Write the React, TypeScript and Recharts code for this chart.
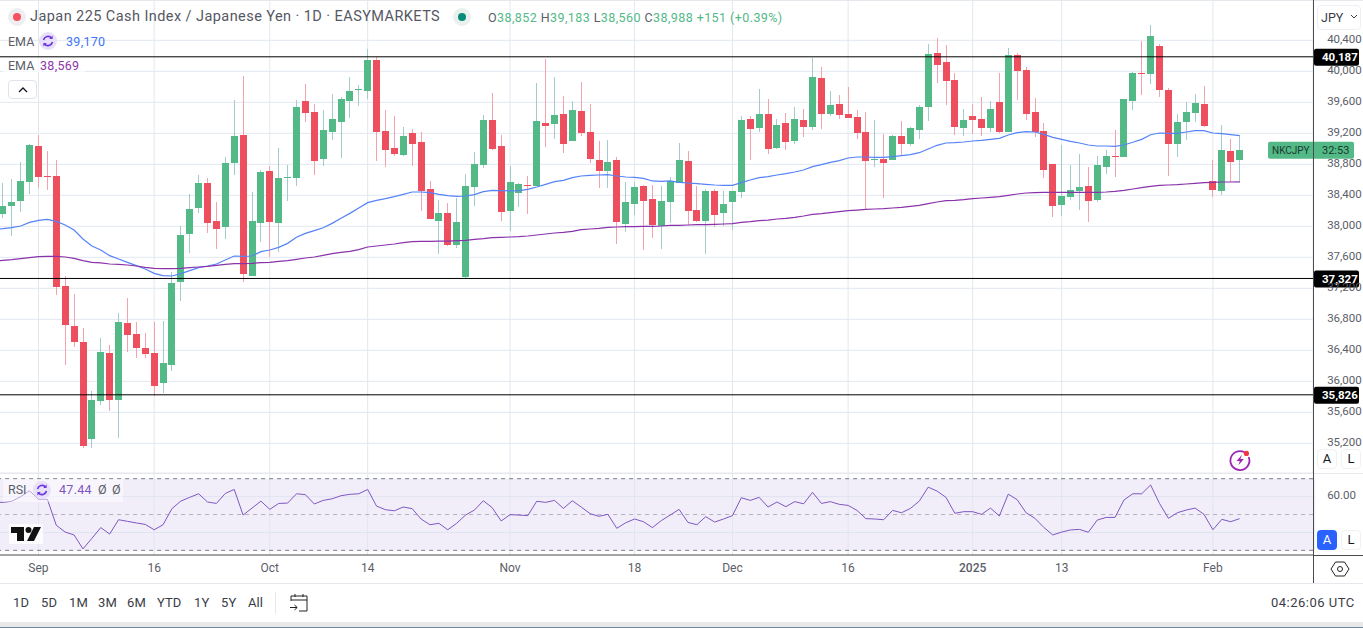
import React from 'react';
import {
  Bar,
  CartesianGrid,
  ComposedChart,
  Line,
  ReferenceArea,
  ReferenceLine,
  XAxis,
  YAxis,
} from 'recharts';

const opens = [
  38163, 38262, 38326, 38572, 39036, 38649, 38649, 37230, 36714, 36507,
  35256, 35746, 36365, 35759, 36752, 36610, 36430, 36365, 35978, 36210,
  37281, 37901, 38236, 38559, 38068, 37991, 38817, 39178, 37359, 38043,
  38714, 38043, 38623, 38623, 39617, 39475, 38868, 39217, 39346, 39617,
  39759, 39746, 40146, 39230, 39010, 38920, 39204, 39088, 38481, 38068,
  38172, 37759, 37346, 38507, 38791, 39372, 39036, 38197, 38430, 38533,
  38520, 39333, 39320, 39449, 39101, 39488, 39217, 38856, 38714, 38856,
  38030, 38288, 38520, 38352, 38004, 38314, 38559, 38843, 38210, 38068,
  38456, 38172, 38314, 38443, 39385, 39268, 39449, 39010, 39333, 39101,
  39372, 39281, 39914, 39449, 39578, 39449, 39410, 39217, 38856, 38868,
  38856, 39165, 39062, 39243, 39539, 40236, 40120, 39888, 39268, 39423,
  39385, 39268, 39604, 39217, 40210, 40017, 39475, 39230, 38804, 38275,
  38378, 38456, 38520, 38339, 38765, 38907, 38894, 39617, 39978, 39965,
  40326, 39759, 39062, 39346, 39462, 39578, 38585, 38456, 38972, 38852,
];
const highs = [
  38563, 38610, 38830, 39062, 39178, 38972, 38856, 37359, 37127, 36688,
  35875, 36559, 36469, 36881, 37075, 36765, 36623, 36765, 36778, 37410,
  38004, 38417, 38662, 38623, 38314, 38894, 39630, 39939, 38443, 38726,
  38778, 39010, 38791, 39630, 39836, 39578, 39501, 39707, 39668, 39926,
  39823, 40288, 40185, 39501, 39423, 39281, 39256, 39217, 38585, 38339,
  38301, 38365, 38675, 38959, 39436, 39720, 39178, 38778, 38559, 38649,
  39849, 40159, 39926, 39681, 39617, 39862, 39578, 39101, 39114, 38894,
  38572, 38572, 38533, 38533, 38520, 38636, 39075, 38972, 38520, 38481,
  38481, 38456, 38456, 39423, 39423, 39772, 39643, 39385, 39462, 39539,
  39514, 40172, 40055, 39746, 39694, 39797, 39501, 39475, 39372, 39191,
  39178, 39359, 39281, 39565, 40352, 40430, 40339, 39978, 39514, 39578,
  39668, 39617, 39978, 40301, 40236, 40055, 39656, 39333, 38804, 39049,
  38791, 38933, 38765, 38907, 38985, 39243, 39643, 39991, 40391, 40597,
  40352, 39785, 39449, 39604, 39707, 39810, 38856, 39307, 39127, 39183,
];
const lows = [
  38107, 37875, 38185, 38417, 38494, 38468, 37114, 36210, 36443, 35139,
  35139, 35694, 35617, 35269, 36378, 36301, 36301, 35810, 35849, 36133,
  37036, 37656, 38172, 37914, 37707, 37836, 38662, 37281, 37359, 37797,
  37604, 37668, 38326, 38520, 39346, 38662, 38778, 39114, 38881, 39397,
  39552, 39643, 38843, 38765, 38907, 38907, 38778, 38197, 38094, 37643,
  37746, 37720, 37320, 38262, 38752, 38985, 38068, 37939, 38249, 38159,
  38520, 39023, 39127, 38946, 39101, 39165, 38817, 38494, 38494, 37772,
  37927, 38146, 37694, 37849, 37707, 38043, 38559, 38017, 38056, 37643,
  37991, 38004, 37952, 38365, 38856, 39217, 38933, 38997, 38985, 39062,
  39152, 39243, 39256, 39423, 39385, 39397, 39127, 38223, 38765, 38365,
  38856, 38907, 39036, 39127, 39359, 39849, 39565, 39178, 39165, 39191,
  39165, 39217, 39204, 39217, 39630, 39372, 39152, 38623, 38120, 38133,
  38339, 38210, 38056, 38314, 38675, 38636, 38894, 39501, 39694, 39836,
  39668, 38649, 38894, 39114, 39346, 39281, 38378, 38404, 38572, 38560,
];
const closes = [
  38262, 38314, 38585, 39053, 38636, 38636, 37217, 36727, 36507, 35165,
  35759, 36378, 35759, 36765, 36598, 36430, 36352, 35939, 36236, 37268,
  37888, 38223, 38559, 38043, 37965, 38817, 39165, 37385, 38068, 38701,
  38056, 38623, 38636, 39539, 39462, 38843, 39243, 39385, 39643, 39746,
  39772, 40146, 39217, 38985, 38933, 39165, 39062, 38456, 38094, 38172,
  37759, 38056, 38520, 38804, 39372, 38997, 38185, 38572, 38546, 38520,
  39359, 39294, 39436, 39062, 39501, 39204, 38868, 38714, 38830, 38056,
  38314, 38507, 38326, 38017, 38326, 38585, 38856, 38197, 38068, 38456,
  38146, 38288, 38456, 39372, 39256, 39449, 38997, 39307, 39088, 39385,
  39281, 39926, 39449, 39565, 39436, 39397, 39204, 38843, 38868, 38817,
  39165, 39062, 39268, 39539, 40223, 40081, 39875, 39281, 39372, 39372,
  39268, 39514, 39217, 40210, 40004, 39449, 39217, 38726, 38262, 38391,
  38468, 38507, 38326, 38791, 38907, 38894, 39643, 39978, 39965, 40455,
  39759, 39062, 39346, 39475, 39591, 39294, 38468, 38985, 38830, 38988,
];
// the three lines below carry one extra reading for the bar just left of the frame
const emaFast = [
  37961,
  37970, 37982, 38004, 38051, 38077, 38090, 38064, 38017, 37952, 37836,
  37746, 37694, 37621, 37578, 37535, 37492, 37449, 37393, 37363, 37359,
  37389, 37428, 37466, 37488, 37514, 37565, 37617, 37613, 37617, 37673,
  37694, 37729, 37780, 37858, 37909, 37944, 37982, 38038, 38103, 38167,
  38236, 38305, 38335, 38357, 38382, 38413, 38443, 38443, 38434, 38413,
  38395, 38387, 38391, 38408, 38447, 38464, 38460, 38456, 38460, 38477,
  38507, 38542, 38576, 38593, 38628, 38649, 38658, 38662, 38666, 38649,
  38636, 38632, 38619, 38585, 38580, 38585, 38567, 38559, 38550, 38542,
  38533, 38529, 38529, 38563, 38597, 38628, 38640, 38662, 38679, 38701,
  38726, 38770, 38795, 38825, 38847, 38881, 38894, 38894, 38890, 38890,
  38899, 38911, 38924, 38950, 38997, 39045, 39075, 39079, 39088, 39101,
  39109, 39122, 39135, 39178, 39208, 39221, 39217, 39187, 39148, 39122,
  39096, 39075, 39049, 39036, 39036, 39032, 39049, 39084, 39122, 39182,
  39204, 39200, 39200, 39217, 39234, 39234, 39204, 39195, 39182, 39170,
];
const emaSlow = [
  37552,
  37561, 37570, 37582, 37595, 37608, 37613, 37613, 37604, 37587, 37557,
  37535, 37527, 37514, 37509, 37501, 37488, 37471, 37458, 37453, 37453,
  37458, 37466, 37475, 37484, 37497, 37509, 37518, 37518, 37522, 37531,
  37535, 37548, 37557, 37574, 37591, 37604, 37625, 37647, 37664, 37677,
  37699, 37733, 37746, 37759, 37772, 37789, 37802, 37806, 37806, 37810,
  37810, 37815, 37819, 37832, 37841, 37853, 37858, 37862, 37866, 37875,
  37888, 37901, 37914, 37922, 37935, 37957, 37965, 37974, 37987, 37991,
  37995, 37995, 38000, 38000, 38004, 38013, 38013, 38017, 38021, 38021,
  38026, 38030, 38034, 38051, 38060, 38073, 38081, 38094, 38103, 38116,
  38133, 38154, 38163, 38176, 38189, 38202, 38210, 38219, 38223, 38228,
  38236, 38245, 38258, 38271, 38292, 38314, 38331, 38335, 38344, 38357,
  38365, 38374, 38382, 38400, 38417, 38430, 38434, 38438, 38438, 38438,
  38438, 38438, 38438, 38438, 38443, 38451, 38464, 38481, 38498, 38516,
  38529, 38533, 38537, 38546, 38554, 38563, 38567, 38572, 38572, 38574,
];
const rsiValues = [
  56.8,
  56.8, 57.4, 60.0, 63.3, 58.5, 58.5, 44.0, 40.2, 38.6, 30.8,
  36.7, 42.7, 39.1, 47.1, 46.2, 45.3, 44.5, 41.5, 44.3, 53.3,
  57.5, 59.6, 61.6, 57.0, 56.2, 61.8, 64.0, 49.7, 53.6, 57.5,
  52.9, 56.2, 56.4, 61.6, 61.1, 55.9, 57.9, 58.8, 60.5, 61.3,
  61.6, 64.0, 54.7, 52.7, 52.1, 54.2, 53.3, 47.5, 44.3, 45.1,
  41.5, 45.1, 49.7, 52.5, 57.7, 53.8, 46.4, 49.9, 49.7, 49.4,
  57.4, 56.8, 57.9, 53.4, 57.7, 54.2, 50.5, 49.0, 50.1, 42.3,
  45.4, 47.5, 46.0, 42.7, 46.6, 49.7, 52.9, 45.6, 44.3, 48.8,
  45.8, 47.5, 49.4, 59.4, 57.9, 59.6, 54.2, 57.0, 54.4, 57.2,
  56.0, 62.4, 56.2, 57.2, 55.7, 55.1, 52.3, 47.7, 47.5, 47.1,
  52.3, 51.0, 53.4, 57.5, 65.3, 63.1, 59.6, 50.7, 51.6, 51.6,
  50.1, 53.6, 49.2, 61.4, 58.3, 51.0, 47.9, 42.8, 38.6, 40.2,
  41.4, 41.7, 40.1, 46.9, 48.4, 48.4, 58.1, 61.6, 61.6, 66.5,
  56.2, 47.9, 51.0, 52.5, 53.6, 50.1, 41.5, 47.3, 46.0, 47.7,
];

const priceTicks = [
  35200, 35600, 36000, 36400, 36800, 37200, 37600, 38000, 38400, 38800, 39200,
  39600, 40000, 40400,
];
const timeTicks = [4, 17, 30, 41, 57, 71, 82, 95, 109, 119, 136];
const timeLabels = ['Sep', '16', 'Oct', '14', 'Nov', '18', 'Dec', '16', '2025', '13', 'Feb'];
const levels = [40187, 37327, 35826];
const ranges = ['1D', '5D', '1M', '3M', '6M', 'YTD', '1Y', '5Y', 'All'];
const rangeLeft = [13, 41, 69, 98, 127, 157, 194, 221, 248];

const FONT = 'Roboto, sans-serif';
const GRID = '#e0e8ef';
const UP = '#53b987';
const DOWN = '#ee4f5f';
const UP_WICK = '#a3cbcb';
const DOWN_WICK = '#f4a3ae';
const TEXT = '#5b5e69';

const TOTAL_SLOTS = 149;
const data = Array.from({ length: TOTAL_SLOTS }, (_, i) => ({
  idx: i - 1,
  open: opens[i - 1],
  high: highs[i - 1],
  low: lows[i - 1],
  close: closes[i - 1],
  fast: emaFast[i],
  slow: emaSlow[i],
  rsi: rsiValues[i],
}));

const fmt = (v: number) => v.toLocaleString('en-US');

function Candle(props: any) {
  const { x, y, width, height, payload } = props;
  if (payload.open === undefined) return null;
  const { open, high, low, close } = payload;
  const h = Math.abs(height);
  const top = Math.min(y, y + height);
  const perUnit = h / (high - low);
  const px = Math.round(x + width / 2 - 0.5);
  const bodyTop = Math.round(top + (high - Math.max(open, close)) * perUnit);
  const bodyBottom = Math.round(top + (high - Math.min(open, close)) * perUnit);
  const rising = close >= open;
  return (
    <g shapeRendering="crispEdges">
      <rect x={px} y={top} width={1} height={h} fill={rising ? UP_WICK : DOWN_WICK} />
      <rect
        x={px - 3}
        y={bodyTop}
        width={7}
        height={Math.max(1, bodyBottom - bodyTop)}
        fill={rising ? UP : DOWN}
      />
    </g>
  );
}

function ScaleTick(props: any) {
  const { x, y, payload, digits } = props;
  const label = digits ? payload.value.toFixed(digits) : fmt(payload.value);
  return (
    <text x={x} y={y + 2.5} fill={TEXT} fontSize={11.5} fontFamily={FONT} textAnchor="start">
      {label}
    </text>
  );
}

function TimeTick(props: any) {
  const { x, y, payload } = props;
  const label = timeLabels[timeTicks.indexOf(payload.value)];
  return (
    <text
      x={x}
      y={y + 11}
      fill={TEXT}
      fontSize={12}
      fontFamily={FONT}
      fontWeight={label === '2025' ? 500 : 400}
      textAnchor="middle"
    >
      {label}
    </text>
  );
}

function LevelTag(props: any) {
  const { viewBox, value } = props;
  return (
    <g>
      <rect x={1314} y={viewBox.y - 8} width={45} height={17} rx={2} fill="#000" />
      <text x={1322} y={viewBox.y + 4.5} fill="#fff" fontSize={11.5} fontWeight={700} fontFamily={FONT}>
        {value}
      </text>
    </g>
  );
}

function CountdownTag(props: any) {
  const { viewBox } = props;
  return (
    <g>
      <rect x={1268} y={viewBox.y - 8} width={86} height={17} rx={2} fill={UP} />
      <text x={1272} y={viewBox.y + 4.5} fill="#1b3a2c" fontSize={10} fontFamily={FONT}>
        NKCJPY
      </text>
      <text x={1322} y={viewBox.y + 4.5} fill="#1b3a2c" fontSize={11} fontFamily={FONT}>
        32:53
      </text>
    </g>
  );
}

function Abs({ left, top, style, children }: any) {
  return (
    <div style={{ position: 'absolute', left, top, whiteSpace: 'nowrap', ...style }}>{children}</div>
  );
}

function CycleIcon({ left, top }: any) {
  return (
    <svg style={{ position: 'absolute', left, top }} width={18} height={18} viewBox="0 0 18 18">
      <circle cx={9} cy={9} r={9} fill="#e8e0f8" />
      <path
        d="M4.5 8 A4.7 4.7 0 0 1 12.6 6 M13.5 10 A4.7 4.7 0 0 1 5.4 12"
        fill="none"
        stroke="#6a35e0"
        strokeWidth={1.6}
      />
      <path d="M13.6 3.6 V7 H10.2 Z M4.4 14.4 V11 H7.8 Z" fill="#6a35e0" />
    </svg>
  );
}

function ScaleButton({ left, top, label, active }: any) {
  return (
    <div
      style={{
        position: 'absolute',
        left,
        top,
        width: 20,
        height: 20,
        borderRadius: 4,
        border: active ? 'none' : '1px solid #f0f1f3',
        boxSizing: 'border-box',
        background: active ? '#2962ff' : '#fff',
        color: active ? '#fff' : '#131722',
        fontSize: 13,
        lineHeight: active ? '20px' : '18px',
        textAlign: 'center',
      }}
    >
      {label}
    </div>
  );
}

export default function App() {
  return (
    <div
      style={{
        position: 'absolute',
        left: 0,
        top: 0,
        width: 1363,
        height: 628,
        overflow: 'hidden',
        background: '#fff',
        fontFamily: FONT,
        color: TEXT,
      }}
    >
      <div style={{ position: 'absolute', left: 0, top: 0 }}>
        <ComposedChart
          width={1363}
          height={473}
          data={data}
          margin={{ top: 0, right: 0, bottom: 0, left: -10.45 }}
          barCategoryGap={0}
        >
          <CartesianGrid stroke={GRID} />
          <XAxis
            dataKey="idx"
            hide
            scale="band"
            interval={0}
            ticks={timeTicks}
            padding={{ left: 0, right: -2.06 }}
          />
          <YAxis
            orientation="right"
            width={49.85}
            domain={[34817, 40920]}
            allowDataOverflow
            ticks={priceTicks}
            tick={<ScaleTick />}
            tickLine={false}
            axisLine={false}
            tickMargin={8}
          />
          <Line dataKey="fast" stroke="#5583f7" strokeWidth={1.2} dot={false} activeDot={false} isAnimationActive={false} />
          <Line dataKey="slow" stroke="#8a32aa" strokeWidth={1.2} dot={false} activeDot={false} isAnimationActive={false} />
          <Bar
            dataKey={(d: any) => (d.open === undefined ? null : [d.low, d.high])}
            shape={<Candle />}
            isAnimationActive={false}
          />
          {levels.map((v) => (
            <ReferenceLine
              key={v}
              y={v}
              stroke="#000"
              label={(p: any) => <LevelTag {...p} value={fmt(v)} />}
            />
          ))}
          <ReferenceLine
            y={closes[closes.length - 1]}
            stroke="none"
            label={(p: any) => <CountdownTag {...p} />}
          />
        </ComposedChart>
      </div>

      <div style={{ position: 'absolute', left: 0, top: 473 }}>
        <ComposedChart
          width={1363}
          height={110}
          data={data}
          margin={{ top: 0, right: 0, bottom: 0, left: -10.45 }}
        >
          <XAxis
            dataKey="idx"
            scale="band"
            height={28}
            interval={0}
            ticks={timeTicks}
            tick={<TimeTick />}
            tickLine={false}
            tickMargin={0}
            axisLine={{ stroke: '#4a4a4f' }}
            padding={{ left: 0, right: -2.06 }}
          />
          <YAxis
            orientation="right"
            width={49.85}
            domain={[27.4, 73.2]}
            allowDataOverflow
            ticks={[60]}
            tick={<ScaleTick digits={2} />}
            tickLine={false}
            axisLine={false}
            tickMargin={8}
          />
          <ReferenceArea y1={30} y2={70} fill="#7e57c2" fillOpacity={0.1} stroke="none" />
          <ReferenceLine y={60} stroke="#dfe3f0" />
          <ReferenceLine y={40} stroke="#dfe3f0" />
          {timeTicks.map((t) => (
            <ReferenceLine key={t} x={t} stroke="#dfe6f0" />
          ))}
          <ReferenceLine y={70} stroke="#787b86" strokeDasharray="4 4" />
          <ReferenceLine y={50} stroke="#b4b0bd" strokeDasharray="4 4" />
          <ReferenceLine y={30} stroke="#787b86" strokeDasharray="4 4" />
          <Line dataKey="rsi" stroke="#7e57c2" strokeWidth={1} dot={false} activeDot={false} isAnimationActive={false} />
        </ComposedChart>
      </div>

      {/* pane frames */}
      <div style={{ position: 'absolute', left: 0, top: 0, width: 1363, height: 1, background: '#e6e8ed' }} />
      <div style={{ position: 'absolute', left: 1313, top: 0, width: 1, height: 583, background: '#4a4a4f' }} />
      <div style={{ position: 'absolute', left: 0, top: 473, width: 1313, height: 1, background: '#e6e8ed' }} />
      <div style={{ position: 'absolute', left: 1314, top: 473, width: 49, height: 1, background: '#e6e8ed' }} />
      <div style={{ position: 'absolute', left: 1314, top: 555, width: 49, height: 1, background: '#4a4a4f' }} />
      <div style={{ position: 'absolute', left: 0, top: 583, width: 1363, height: 1, background: '#e6e8ed' }} />
      <div style={{ position: 'absolute', left: 0, top: 622, width: 1363, height: 5, background: '#e9e9ea' }} />
      <div style={{ position: 'absolute', left: 0, top: 627, width: 1363, height: 1, background: '#6f8494' }} />

      {/* header */}
      <svg style={{ position: 'absolute', left: 8, top: 8 }} width={18} height={18}>
        <circle cx={9} cy={9} r={9} fill="#eeeef2" />
        <circle cx={9} cy={9} r={4} fill="#f7525f" />
      </svg>
      <Abs left={30} top={8} style={{ fontSize: 14.5, lineHeight: '18px', color: '#555862', letterSpacing: 0.43 }}>
        Japan 225 Cash Index / Japanese Yen · 1D · EASYMARKETS
      </Abs>
      <svg style={{ position: 'absolute', left: 453, top: 8 }} width={18} height={18}>
        <circle cx={9} cy={9} r={9} fill="#e8f1ee" />
        <circle cx={9} cy={9} r={4} fill="#0a8b76" />
      </svg>
      <Abs left={488} top={9} style={{ fontSize: 12.5, lineHeight: '17px', color: '#53b987', letterSpacing: 0.42 }}>
        <span style={{ color: TEXT }}>O</span>38,852 <span style={{ color: TEXT }}>H</span>39,183{' '}
        <span style={{ color: TEXT }}>L</span>38,560 <span style={{ color: TEXT }}>C</span>38,988 +151
        (+0.39%)
      </Abs>

      <Abs left={8} top={34} style={{ fontSize: 12.5, lineHeight: '16px' }}>EMA</Abs>
      <CycleIcon left={39} top={32} />
      <Abs left={66} top={34} style={{ fontSize: 12.5, lineHeight: '16px', color: '#3f74f5', letterSpacing: 0.3 }}>39,170</Abs>
      <div style={{ position: 'absolute', left: 3, top: 58, width: 82, height: 14, background: 'rgba(255,255,255,0.7)' }} />
      <Abs left={8} top={58} style={{ fontSize: 12.5, lineHeight: '16px' }}>EMA</Abs>
      <Abs left={40} top={58} style={{ fontSize: 12.5, lineHeight: '16px', color: '#8e35a8', letterSpacing: 0.3 }}>38,569</Abs>
      <svg style={{ position: 'absolute', left: 8, top: 80, boxSizing: 'border-box', border: '1px solid #e0e3eb', borderRadius: 4, background: '#fff' }} width={29} height={19}>
        <path d="M10 11 L14 7 L18 11" fill="none" stroke="#131722" strokeWidth={1.3} />
      </svg>

      {/* right scale controls */}
      <div style={{ position: 'absolute', left: 1317, top: 5, width: 44, height: 25, boxSizing: 'border-box', border: '1px solid #eeeff2', borderRadius: 4, background: '#fff' }} />
      <Abs left={1321} top={10} style={{ fontSize: 12.5, lineHeight: '15px', color: '#3a3d47' }}>JPY</Abs>
      <svg style={{ position: 'absolute', left: 1350, top: 14 }} width={8} height={6}>
        <path d="M1 1 L4 4 L7 1" fill="none" stroke="#3a3d47" strokeWidth={1} />
      </svg>
      <ScaleButton left={1317} top={449} label="A" />
      <ScaleButton left={1341} top={449} label="L" />
      <ScaleButton left={1317} top={530} label="A" active />
      <ScaleButton left={1341} top={530} label="L" />

      {/* bolt */}
      <svg style={{ position: 'absolute', left: 1228, top: 448 }} width={24} height={24} viewBox="0 0 24 24">
        <path d="M16.5 4.3 A9.5 9.5 0 1 0 20.7 9" fill="none" stroke="#9c27b0" strokeWidth={1.8} />
        <path d="M14 6.8 L8.5 13 H11.8 L10.5 17.2 L15.8 11 H12.4 Z" fill="#9c27b0" />
        <circle cx={18.4} cy={5.4} r={2.6} fill="#f23645" />
      </svg>

      {/* RSI legend */}
      <div style={{ position: 'absolute', left: 3, top: 479, width: 120, height: 23, background: 'rgba(255,255,255,0.45)' }} />
      <Abs left={8} top={482} style={{ fontSize: 12.5, lineHeight: '16px' }}>RSI</Abs>
      <CycleIcon left={33} top={481} />
      <Abs left={59} top={482} style={{ fontSize: 12.5, lineHeight: '16px', color: '#7e57c2', letterSpacing: 0.3 }}>47.44</Abs>
      <Abs left={98} top={482} style={{ fontSize: 12.5, lineHeight: '16px' }}>Ø</Abs>
      <Abs left={112} top={482} style={{ fontSize: 12.5, lineHeight: '16px' }}>Ø</Abs>
      <svg style={{ position: 'absolute', left: 9, top: 524 }} width={34} height={20} viewBox="0 0 34 20">
        <rect x={0} y={0} width={34} height={20} fill="rgba(255,255,255,0.75)" />
        <path d="M2 3 H15 V17 H8 V9 H2 Z" fill="#111" />
        <circle cx={19.5} cy={6} r={3} fill="#111" />
        <path d="M25 3 H32 L25 17 H18 Z" fill="#111" />
      </svg>

      {/* bottom bar */}
      {ranges.map((r, i) => (
        <Abs key={r} left={rangeLeft[i]} top={595} style={{ fontSize: 13, lineHeight: '16px', color: '#3a3d47', letterSpacing: 0.1 }}>
          {r}
        </Abs>
      ))}
      <div style={{ position: 'absolute', left: 275, top: 592, width: 1, height: 22, background: '#e6e8ed' }} />
      <svg style={{ position: 'absolute', left: 288, top: 592 }} width={22} height={22} viewBox="0 0 22 22">
        <path
          d="M3 9 V4 H19 V19 H11 M3 8 H19 M7 2 V5 M15 2 V5 M2 15.5 H9 M6.5 13 L9.2 15.5 L6.5 18"
          fill="none"
          stroke="#222"
          strokeWidth={1}
        />
      </svg>
      <Abs left={1271} top={595} style={{ fontSize: 13, lineHeight: '16px', color: '#3a3d47', letterSpacing: 0.5 }}>04:26:06 UTC</Abs>
      <svg style={{ position: 'absolute', left: 1330, top: 559 }} width={20} height={20} viewBox="0 0 20 20">
        <path d="M5.5 3 H14.5 L19 10 L14.5 17 H5.5 L1 10 Z" fill="none" stroke="#222" strokeWidth={1} />
        <circle cx={10} cy={10} r={2.5} fill="none" stroke="#222" strokeWidth={1} />
      </svg>
    </div>
  );
}
